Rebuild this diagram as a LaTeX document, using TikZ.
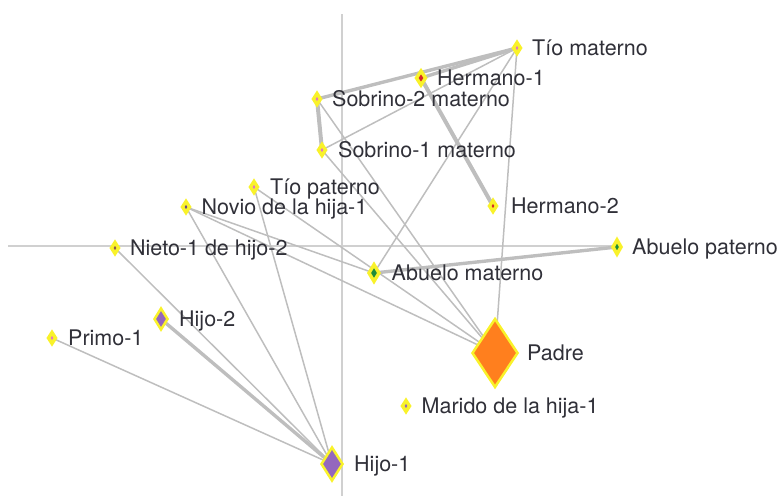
\documentclass[tikz,border=0pt]{standalone}
\usepackage{fontspec}
\setmainfont{TeX Gyre Heros}
\usetikzlibrary{shapes.geometric,backgrounds}
\definecolor{ylw}{HTML}{F9F22A}
\definecolor{edg}{HTML}{BEBEBE}
\definecolor{axc}{HTML}{D0D0D0}
\definecolor{cpink}{HTML}{E377C2}
\definecolor{cred}{HTML}{D62728}
\definecolor{cpurp}{HTML}{9467BD}
\definecolor{corng}{HTML}{FF7F1E}
\definecolor{cgreen}{HTML}{1E8C3A}
\definecolor{cbrown}{HTML}{8C564B}
\definecolor{txt}{HTML}{303038}
\begin{document}
\begin{tikzpicture}[x=1pt,y=-1pt,
  dia/.style={diamond, draw=ylw, inner sep=0pt, outer sep=0pt, line join=miter},
  sm/.style={dia, minimum width=7pt, minimum height=11pt, line width=3.4pt},
  lbl/.style={anchor=base west, inner sep=0pt, text=txt, font=\fontsize{21.5}{25}\selectfont},
  thinedge/.style={draw=edg, line width=1.5pt},
  thickedge/.style={draw=edg, line width=4pt},
  axisline/.style={draw=axc, line width=1.9pt}]
\useasboundingbox (0,0) rectangle (779,496);
% axis end points
\coordinate (axT) at (342,14);
\coordinate (axB) at (342,496);
\coordinate (axL) at (8,246);
\coordinate (axR) at (617,246);
% nodes
\node[sm, fill=cpink] (tm) at (517,48) {};
\node[dia, fill=cred, minimum width=9pt, minimum height=14pt, line width=3.4pt] (h1) at (421,78) {};
\node[sm, fill=cpink] (s2) at (317,99) {};
\node[sm, fill=cpink] (s1) at (322,150) {};
\node[sm, fill=cpink] (tp) at (254,187) {};
\node[sm, fill=cpurp!70!black] (nv) at (186,207) {};
\node[sm, fill=cred] (h2) at (493,206) {};
\node[sm, fill=cbrown] (ni) at (115,248) {};
\node[dia, fill=cgreen, minimum width=8pt, minimum height=14pt, line width=3.5pt] (ap) at (617,247) {};
\node[dia, fill=cgreen, minimum width=10pt, minimum height=16.6pt, line width=3.4pt] (am) at (374,273) {};
\node[dia, fill=cpurp, minimum width=13pt, minimum height=21pt, line width=2.5pt] (hj2) at (161,319) {};
\node[sm, fill=cpink] (pr) at (52,338) {};
\node[dia, fill=corng, minimum width=45pt, minimum height=68pt, line width=2.5pt] (pa) at (495,353) {};
\node[sm, fill=cpurp] (ma) at (406,406) {};
\node[dia, fill=cpurp, minimum width=21pt, minimum height=33pt, line width=2.5pt] (hj1) at (332,464) {};
% labels
\node[lbl] (tmL) at (532,55.5) {Tío materno};
\node[lbl] (h1L) at (437,85.5) {Hermano-1};
\node[lbl] (s2L) at (332,106.5) {Sobrino-2 materno};
\node[lbl] (s1L) at (338,157.5) {Sobrino-1 materno};
\node[lbl] (tpL) at (270,194.5) {Tío paterno};
\node[lbl] (nvL) at (201.5,214.5) {Novio de la hija-1};
\node[lbl] (h2L) at (511,213.5) {Hermano-2};
\node[lbl] (niL) at (130,255.5) {Nieto-1 de hijo-2};
\node[lbl] (apL) at (632,254.5) {Abuelo paterno};
\node[lbl] (amL) at (391.5,280.5) {Abuelo materno};
\node[lbl] (hj2L) at (179,326.5) {Hijo-2};
\node[lbl] (prL) at (68,345.5) {Primo-1};
\node[lbl] (paL) at (527,360.5) {Padre};
\node[lbl] (maL) at (421.5,413.5) {Marido de la hija-1};
\node[lbl] (hj1L) at (354,471.5) {Hijo-1};
\begin{pgfonlayer}{background}
\draw[axisline] (axT) -- (axB);
\draw[axisline] (axL) -- (axR);
% thin edges
\draw[thinedge] (tm.center) -- (s1.center);
\draw[thinedge] (tm.center) -- (am.center);
\draw[thinedge] (tm.center) -- (pa.center);
\draw[thinedge] (s2.center) -- (pa.center);
\draw[thinedge] (s1.center) -- (pa.center);
\draw[thinedge] (tp.center) -- (pa.center);
\draw[thinedge] (tp.center) -- (hj1.center);
\draw[thinedge] (nv.center) -- (pa.center);
\draw[thinedge] (nv.center) -- (am.center);
\draw[thinedge] (nv.center) -- (hj1.center);
\draw[thinedge] (ni.center) -- (hj1.center);
\draw[thinedge] (pr.center) -- (hj1.center);
% thick edges
\draw[thickedge, line width=3.4pt] (s2.center) -- (tm.center);
\draw[thickedge, line width=3.4pt] (h1.center) -- (tm.center);
\draw[thickedge] (s2.center) -- (s1.center);
\draw[thickedge] (h1.center) -- (h2.center);
\draw[thickedge, line width=3.4pt] (hj2.center) -- (hj1.center);
\draw[thickedge, line width=3.4pt] (am.center) -- (ap.center);
\end{pgfonlayer}
\end{tikzpicture}
\end{document}
